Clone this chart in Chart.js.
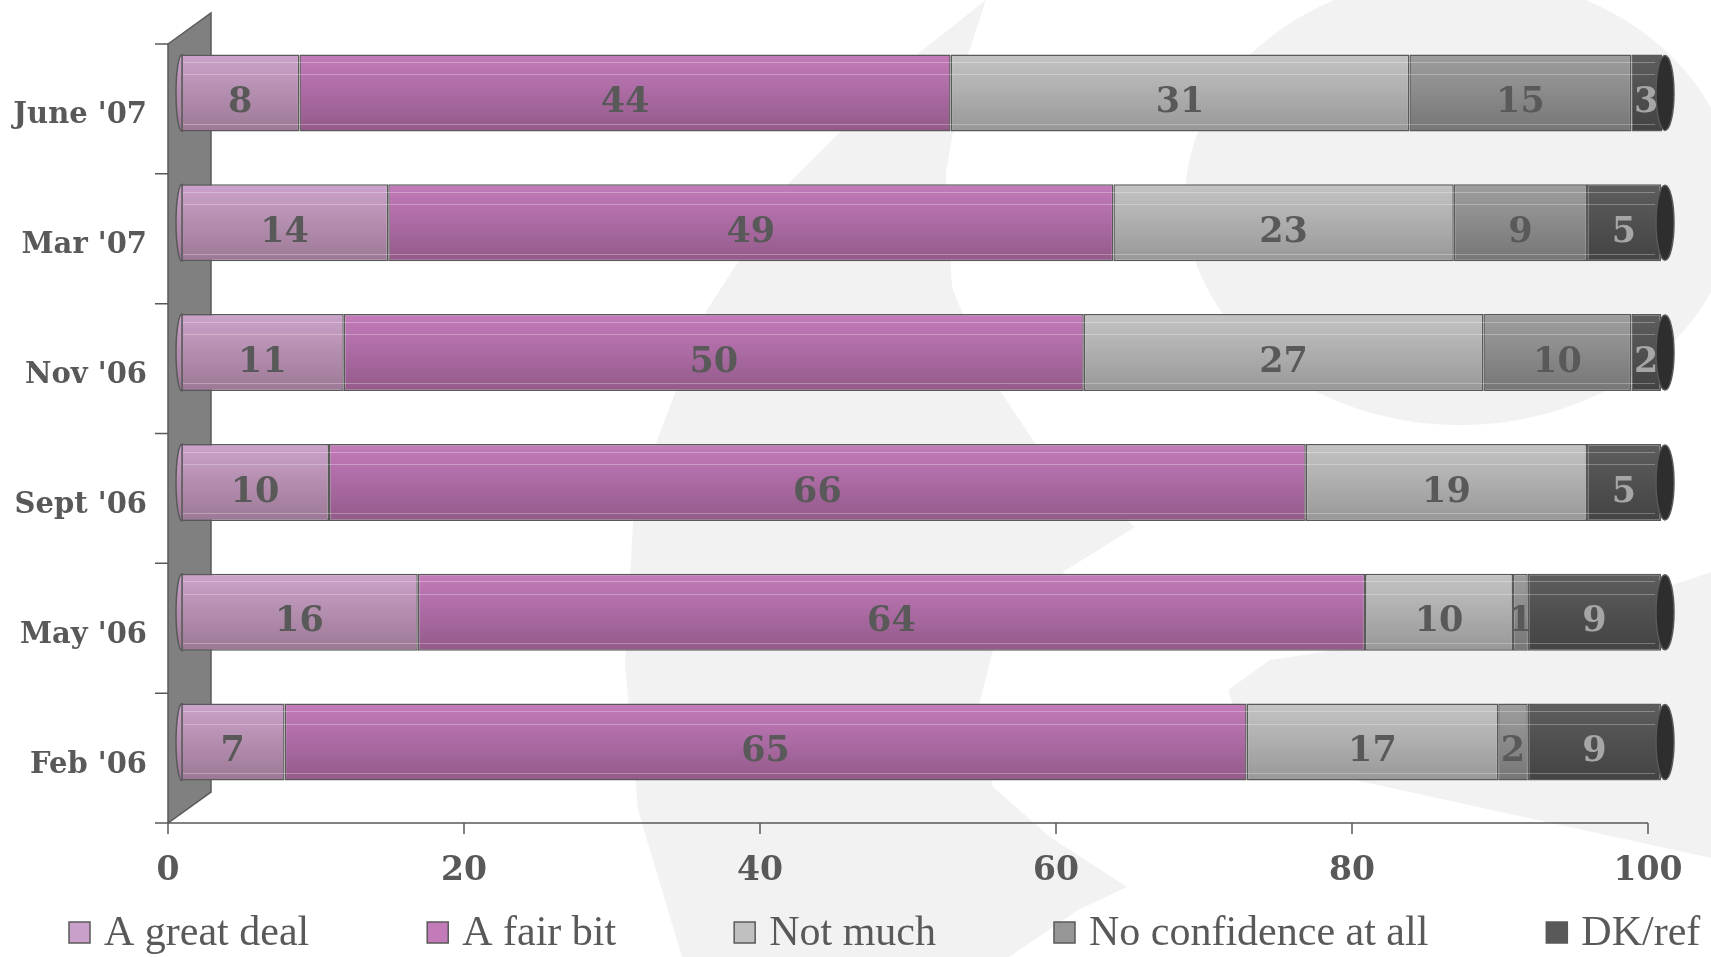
<!DOCTYPE html>
<html>
<head>
<meta charset="utf-8">
<script src="https://cdn.jsdelivr.net/npm/chart.js@4.4.0/dist/chart.umd.min.js"></script>
<style>
html, body { margin: 0; padding: 0; background: #fff; }
#chart { display: block; }
</style>
</head>
<body>
<canvas id="chart" width="1711" height="957"></canvas>
<script>
'use strict';
var categories = ["June '07", "Mar '07", "Nov '06", "Sept '06", "May '06", "Feb '06"];
var greatDeal = [8, 14, 11, 10, 16, 7];
var fairBit = [44, 49, 50, 66, 64, 65];
var notMuch = [31, 23, 27, 19, 10, 17];
var noConfidence = [15, 9, 10, 0, 1, 2];
var dkRef = [3, 5, 2, 5, 9, 9];
var seriesNames = ['A great deal', 'A fair bit', 'Not much', 'No confidence at all', 'DK/ref'];
var xTicks = [0, 20, 40, 60, 80, 100];

var BAR_PCT = 0.593;
var DX = 13, DY = 16; // front axis offset from the bars (3D look)
var INK = '#595959';

// top, middle, bottom shades of each tube, plus legend swatch
var shades = [
	['#cca3cc', '#b690b1', '#9c7896', '#c9a0c9'],
	['#c47cba', '#ad6ca5', '#935a89', '#c27bb8'],
	['#c4c4c4', '#b0b0b0', '#989898', '#c0c0c0'],
	['#9e9e9e', '#8c8c8c', '#767676', '#969696'],
	['#5e5e5e', '#515151', '#434343', '#595959']
];
var labelColors = [INK, INK, INK, INK, '#a6a6a6'];

function tubeGradient(ctx, s, yc, h) {
	var g = ctx.createLinearGradient(0, yc - h / 2, 0, yc + h / 2);
	g.addColorStop(0, s[0]);
	g.addColorStop(0.45, s[1]);
	g.addColorStop(1, s[2]);
	return g;
}

function tubeFill(s) {
	return function (c) {
		var ys = c.chart.scales.y;
		if (!ys || c.dataIndex === undefined) return s[1];
		var h = (ys.height / categories.length) * BAR_PCT;
		var yc = ys.getPixelForValue(c.dataIndex);
		if (!isFinite(h) || !isFinite(yc) || h <= 0) return s[1];
		return tubeGradient(c.chart.ctx, s, yc, h);
	};
}

var backdrop = {
	id: 'backdrop',
	beforeDraw: function (chart) {
		var c = chart.ctx;
		c.save();
		c.fillStyle = '#fff';
		c.fillRect(0, 0, chart.width, chart.height);
		c.fillStyle = '#f2f2f2';
		var band = [[986, 0], [919, 53], [789, 183], [707, 310], [656, 443], [633, 524], [625, 664], [638, 810], [682, 957],
			[1009, 957], [1078, 910], [1127, 887], [1050, 837], [993, 787], [978, 710], [993, 650], [1066, 570], [1135, 527],
			[1035, 443], [984, 367], [952, 287], [946, 173], [964, 67]];
		c.beginPath();
		band.forEach(function (p, i) { i ? c.lineTo(p[0], p[1]) : c.moveTo(p[0], p[1]); });
		c.closePath();
		c.fill();
		c.beginPath();
		c.ellipse(1460, 200, 275, 225, 0, 0, Math.PI * 2);
		c.fill();
		var low = [[1711, 572], [1600, 610], [1400, 640], [1270, 660], [1228, 690], [1245, 740], [1300, 768], [1711, 858]];
		c.beginPath();
		low.forEach(function (p, i) { i ? c.lineTo(p[0], p[1]) : c.moveTo(p[0], p[1]); });
		c.closePath();
		c.fill();
		c.restore();
	}
};

var wall = {
	id: 'wall',
	beforeDatasetsDraw: function (chart) {
		var c = chart.ctx, xs = chart.scales.x, ys = chart.scales.y;
		var x0 = xs.getPixelForValue(0) - DX;
		var top = ys.top + DY, bot = ys.bottom + DY;
		c.save();
		c.lineWidth = 1.5;
		c.strokeStyle = INK;
		c.fillStyle = '#808080';
		c.beginPath();
		c.moveTo(x0, top);
		c.lineTo(x0 + 43, top - 31);
		c.lineTo(x0 + 43, bot - 31);
		c.lineTo(x0, bot);
		c.closePath();
		c.fill();
		c.stroke();
		c.beginPath();
		for (var i = 0; i <= categories.length; i++) {
			var y = ys.getPixelForValue(i - 0.5) + DY;
			c.moveTo(x0 - 13, y);
			c.lineTo(x0, y);
		}
		c.moveTo(x0, bot);
		c.lineTo(xs.getPixelForValue(100) - DX, bot);
		xTicks.forEach(function (v) {
			var x = xs.getPixelForValue(v) - DX;
			c.moveTo(x, bot);
			c.lineTo(x, bot + 11);
		});
		c.stroke();
		c.restore();
	}
};

var tubes = {
	id: 'tubes',
	afterDatasetsDraw: function (chart) {
		var c = chart.ctx, xs = chart.scales.x, ys = chart.scales.y;
		var h = (ys.height / categories.length) * BAR_PCT;
		var xl = xs.getPixelForValue(0), xr = xs.getPixelForValue(100);
		c.save();
		// faint ribbing
		c.strokeStyle = 'rgba(255,255,255,0.28)';
		c.lineWidth = 1;
		categories.forEach(function (_, j) {
			var yt = ys.getPixelForValue(j) - h / 2;
			[0.1, 0.26, 0.9].forEach(function (f) {
				c.beginPath();
				c.moveTo(xl + 2, Math.round(yt + f * h) + 0.5);
				c.lineTo(xr - 6, Math.round(yt + f * h) + 0.5);
				c.stroke();
			});
		});
		c.lineWidth = 1.5;
		c.strokeStyle = INK;
		categories.forEach(function (_, j) {
			var yc = ys.getPixelForValue(j);
			// rounded near end
			c.beginPath();
			c.ellipse(xl + 1, yc, 6, h / 2, 0, -Math.PI / 2, Math.PI / 2, true);
			c.closePath();
			c.fillStyle = tubeGradient(c, shades[0], yc, h);
			c.fill();
			c.stroke();
			// open far end
			c.beginPath();
			c.ellipse(xr + 4, yc, 9, h / 2 - 1, 0, 0, Math.PI * 2);
			c.fillStyle = '#2e2e2e';
			c.fill();
			c.stroke();
		});
		// values
		c.font = 'bold 35px "DejaVu Serif"';
		c.textAlign = 'center';
		c.textBaseline = 'middle';
		chart.data.datasets.forEach(function (ds, i) {
			var meta = chart.getDatasetMeta(i);
			c.fillStyle = labelColors[i];
			meta.data.forEach(function (el, j) {
				var v = ds.data[j];
				if (!v) return;
				var p = el.getProps(['x', 'base', 'y'], true);
				var cx = (Math.min(p.x, xr) + p.base) / 2;
				c.fillText(String(v), cx, p.y + 10);
			});
		});
		c.restore();
	}
};

var keyRow = {
	id: 'keyRow',
	afterDraw: function (chart) {
		var c = chart.ctx;
		var x = 69, yb = 945;
		c.save();
		c.font = '42px "Liberation Serif"';
		c.textBaseline = 'alphabetic';
		c.lineWidth = 1.5;
		c.strokeStyle = INK;
		seriesNames.forEach(function (name, i) {
			c.fillStyle = shades[i][3];
			c.fillRect(x, yb - 23, 21, 21);
			c.strokeRect(x, yb - 23, 21, 21);
			c.fillStyle = INK;
			c.fillText(name, x + 35, yb);
			x += 35 + c.measureText(name).width + 118;
		});
		c.restore();
	}
};

var sets = [greatDeal, fairBit, notMuch, noConfidence, dkRef].map(function (d, i) {
	return {
		label: seriesNames[i],
		data: d,
		backgroundColor: tubeFill(shades[i]),
		borderColor: INK,
		borderWidth: 1.5,
		borderSkipped: false,
		barPercentage: BAR_PCT,
		categoryPercentage: 1,
		clip: { left: false, top: false, bottom: false, right: 1 }
	};
});

new Chart(document.getElementById('chart'), {
	type: 'bar',
	data: { labels: categories, datasets: sets },
	options: {
		indexAxis: 'y',
		responsive: false,
		animation: false,
		layout: { padding: { top: 28, right: 50, left: 0, bottom: 0 } },
		plugins: { legend: { display: false }, tooltip: { enabled: false } },
		scales: {
			x: {
				stacked: true,
				min: 0,
				max: 100,
				afterBuildTicks: function (s) { s.ticks = xTicks.map(function (v) { return { value: v }; }); },
				afterFit: function (s) { s.height = 150; s.paddingLeft = 0; s.paddingRight = 0; },
				grid: { display: false, drawTicks: false },
				border: { display: false },
				ticks: { color: INK, font: { family: 'DejaVu Serif', size: 33, weight: 'bold' }, padding: 45, labelOffset: -DX, maxRotation: 0 }
			},
			y: {
				stacked: true,
				afterFit: function (s) { s.width = 181; s.paddingTop = 0; s.paddingBottom = 0; },
				grid: { display: false, drawTicks: false },
				border: { display: false },
				ticks: { color: INK, font: { family: 'DejaVu Serif', size: 29, weight: 'bold' }, padding: 34, labelOffset: 23 }
			}
		}
	},
	plugins: [backdrop, wall, tubes, keyRow]
});
</script>
</body>
</html>
